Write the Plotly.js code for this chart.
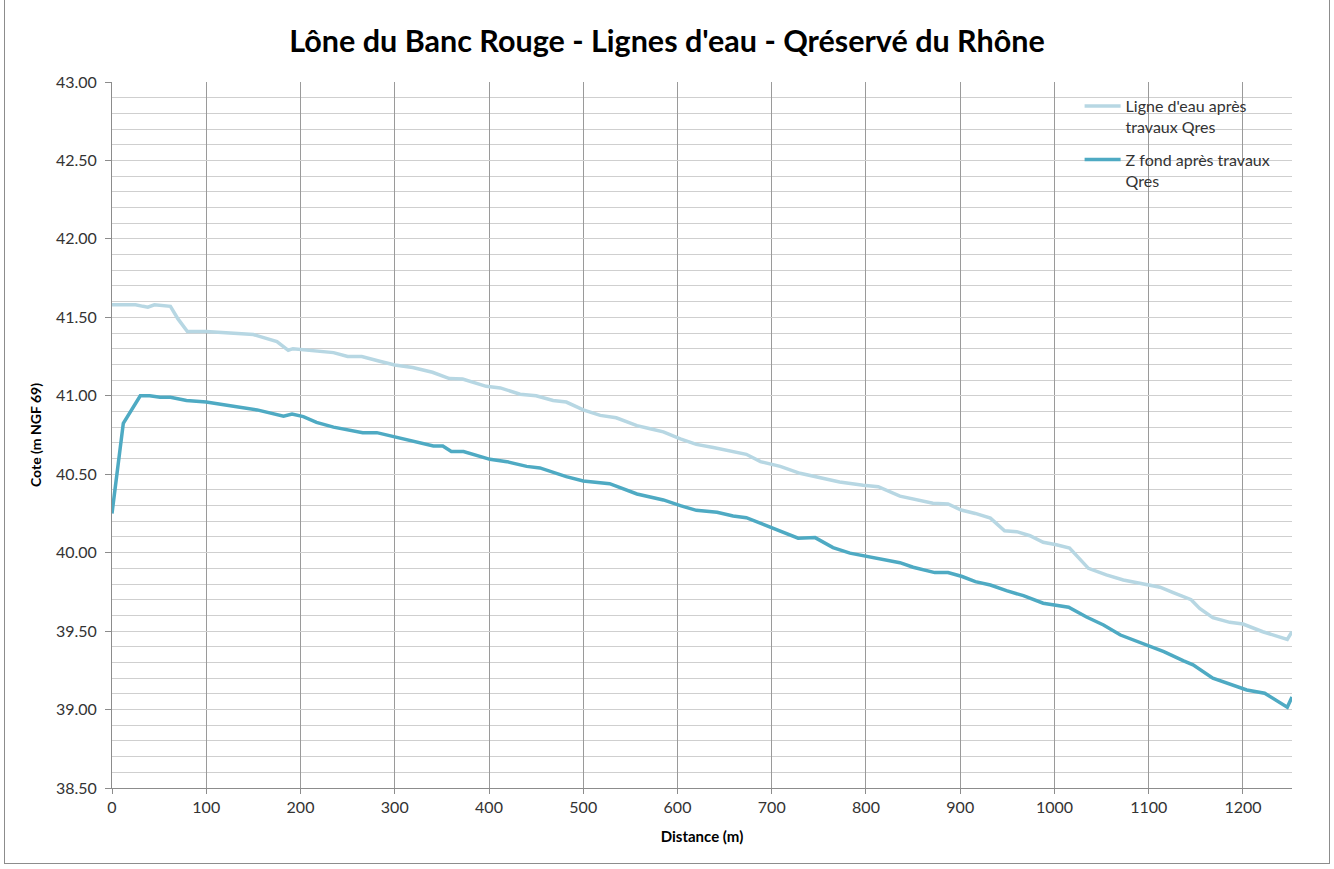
<!DOCTYPE html>
<html>
<head>
<meta charset="utf-8">
<script src="https://cdn.plot.ly/plotly-3.0.1.min.js"></script>
<style>
html,body{margin:0;padding:0;background:#fff;}
#frame{position:absolute;left:4px;top:-2px;width:1326px;height:866px;border:1px solid #8c8c8c;box-sizing:border-box;pointer-events:none;z-index:5;}
#chart{width:1334px;height:869px;}
</style>
</head>
<body>
<div id="frame"></div>
<div id="chart"></div>
<script>
// Ligne d'eau après travaux Qres
var distEau = [0,10,25,33,38,45,55,62,70,80,100,120,150,175,187,192,200,215,235,250,265,284,300,319,340,358,372,397,412,433,450,468,482,500,518,535,557,571,585,603,620,638,656,673,688,709,730,751,772,797,813,836,850,871,887,901,916,932,947,960,974,988,1002,1016,1036,1055,1073,1087,1101,1112,1126,1145,1154,1168,1186,1200,1221,1247,1252];
var coteEau = [41.58,41.58,41.58,41.57,41.565,41.58,41.575,41.57,41.49,41.41,41.41,41.40,41.39,41.345,41.29,41.30,41.296,41.29,41.275,41.25,41.25,41.22,41.196,41.18,41.15,41.11,41.107,41.06,41.05,41.01,41.00,40.97,40.96,40.91,40.875,40.86,40.81,40.79,40.77,40.725,40.69,40.67,40.65,40.627,40.58,40.55,40.506,40.48,40.45,40.43,40.42,40.36,40.34,40.315,40.31,40.272,40.25,40.22,40.14,40.134,40.108,40.066,40.05,40.03,39.90,39.858,39.826,39.81,39.794,39.78,39.745,39.70,39.645,39.586,39.556,39.545,39.496,39.447,39.496];

// Z fond après travaux Qres
var distFond = [0,12,30,40,51,62,79,100,122,143,154,182,191,203,217,235,253,266,281,302,323,341,351,360,373,401,419,440,454,482,500,518,528,557,567,585,603,620,642,659,673,702,728,746,765,783,801,818,836,850,873,887,902,916,932,949,967,988,1002,1015,1034,1052,1070,1087,1101,1116,1137,1147,1168,1186,1204,1223,1247,1252];
var coteFond = [40.25,40.825,41.0,41.0,40.99,40.99,40.97,40.96,40.94,40.92,40.91,40.87,40.884,40.867,40.83,40.80,40.78,40.765,40.765,40.735,40.71,40.68,40.68,40.645,40.645,40.595,40.58,40.55,40.54,40.485,40.457,40.447,40.44,40.374,40.36,40.336,40.30,40.27,40.257,40.234,40.223,40.155,40.092,40.096,40.032,39.997,39.975,39.958,39.936,39.907,39.873,39.873,39.848,39.815,39.794,39.758,39.726,39.678,39.667,39.652,39.59,39.539,39.475,39.437,39.405,39.369,39.31,39.285,39.20,39.163,39.125,39.104,39.015,39.08];

var nomEau = "Ligne d'eau après<br>travaux Qres";
var nomFond = "Z fond après travaux<br>Qres";
var titre = "Lône du Banc Rouge - Lignes d'eau - Qréservé du Rhône";
var titreX = "Distance (m)";
var titreY = "Cote (m NGF 69)";

var font = "Lato, 'Open Sans', 'DejaVu Sans', sans-serif";

var traces = [
  {x: distEau, y: coteEau, name: nomEau, type: 'scatter', mode: 'lines', legendgroup: 'a',
   line: {color: '#b7d7e3', width: 3.5}},
  {x: distFond, y: coteFond, name: nomFond, type: 'scatter', mode: 'lines', legendgroup: 'b',
   line: {color: '#4eaac3', width: 3.5}}
];

var layout = {
  width: 1334, height: 869,
  margin: {l: 112, r: 42, t: 82, b: 81},
  paper_bgcolor: '#ffffff', plot_bgcolor: '#ffffff',
  font: {family: font, color: '#333333', size: 15},
  title: {text: '<b>' + titre + '</b>', font: {family: font, size: 30.5, color: '#000'},
          x: 0.5, xanchor: 'center', y: 0.952, yanchor: 'middle'},
  xaxis: {
    range: [0, 1252], tick0: 0, dtick: 100, tickformat: 'd',
    showgrid: true, gridcolor: '#9a9a9a', gridwidth: 1,
    showline: true, linecolor: '#8c8c8c', linewidth: 1,
    ticks: 'outside', ticklen: 5, tickcolor: '#8c8c8c',
    zeroline: false, tickfont: {size: 16, color: '#333'},
    title: {text: '<b>' + titreX + '</b>', font: {size: 15, color: '#000'}, standoff: 16}
  },
  yaxis: {
    range: [38.5, 43.0], tick0: 38.5, dtick: 0.5, tickformat: '.2f',
    showgrid: true, gridcolor: '#cfcfcf', gridwidth: 1,
    minor: {dtick: 0.1, showgrid: true, gridcolor: '#cfcfcf', gridwidth: 1},
    showline: true, linecolor: '#8c8c8c', linewidth: 1,
    ticks: 'outside', ticklen: 6, tickcolor: '#8c8c8c', ticklabelstandoff: 5,
    zeroline: false, tickfont: {size: 16, color: '#333'},
    title: {text: '<b>' + titreY + '</b>', font: {size: 14, color: '#000'}, standoff: 10}
  },
  showlegend: true,
  legend: {x: 0.82, y: 0.99, xanchor: 'left', yanchor: 'top', valign: 'top',
           traceorder: 'grouped',
           bgcolor: 'rgba(0,0,0,0)', font: {size: 16, color: '#333'},
           tracegroupgap: 9, itemwidth: 36}
};

Plotly.newPlot('chart', traces, layout, {displayModeBar: false, staticPlot: true});
</script>
</body>
</html>
